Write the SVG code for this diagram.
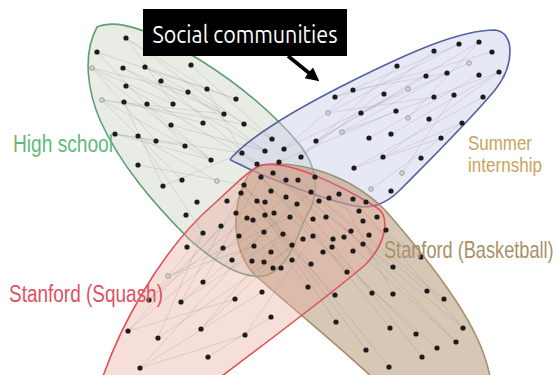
<svg xmlns="http://www.w3.org/2000/svg" xmlns:xlink="http://www.w3.org/1999/xlink" width="560" height="375" viewBox="0 0 560 375">
  <defs>
    <circle id="d" r="2.6" fill="#1c1c1c"/>
    <circle id="h" r="2.3" fill="#d6d6d6" stroke="#8a8a8a" stroke-width="0.8"/>
    <marker id="arrowhead" viewBox="0 0 10 10" refX="5" refY="5" markerWidth="3.8" markerHeight="3.8" orient="auto">
      <path d="M0,0 L10,5 L0,10 Z" fill="#000"/>
    </marker>
  </defs>
  <style>
    .hull { stroke-width: 1.6; }
    .lbl { font-family: "Liberation Sans Narrow", "Liberation Sans", Arial, sans-serif; }
    .edges line { stroke: #6e6e6e; stroke-width: 0.6; stroke-opacity: 0.3; }
  </style>

  <rect width="560" height="375" fill="#ffffff"/>

  <!-- community hulls -->
  <g id="high-school">
    <path class="hull" d="M97,27 C118,18 150,30 200,60 C240,85 275,115 300,145 C318,168 320,195 307,215 C295,240 290,265 268,275 C245,282 215,262 190,240 C155,205 120,165 100,120 C88,92 82,55 97,27 Z" fill="#dfe2da" fill-opacity="0.7" stroke="#5d9f74"/>
  </g>
  <g id="summer-internship">
    <path class="hull" d="M232,157 C250,138 290,112 350,82 C410,52 460,30 495,30 C515,32 515,65 495,90 C470,120 430,160 400,190 C385,205 370,210 350,205 C310,195 260,175 237,163 C230,160 229,160 232,157 Z" fill="#c9cde8" fill-opacity="0.45" stroke="#5260a0"/>
  </g>
  <g id="stanford-basketball">
    <path class="hull" d="M262,165 C300,160 350,175 385,210 C420,250 460,300 478,340 C485,355 490,375 492,385 L380,385 C350,355 300,315 255,275 C235,255 232,220 240,195 C245,178 252,167 262,165 Z" fill="#b0906c" fill-opacity="0.5" stroke="#a58d6e"/>
  </g>
  <g id="stanford-squash">
    <path class="hull" d="M100,385 C118,330 160,250 215,203 C235,185 248,170 262,165 C290,160 340,185 376,207 C392,217 385,245 365,265 C330,295 270,340 210,385 Z" fill="#e8a89c" fill-opacity="0.38" stroke="#e0525a"/>
  </g>

  <!-- ties between members -->
  <g class="edges" id="connectors">
    <line x1="92" y1="68" x2="211" y2="160"/>
    <line x1="92" y1="68" x2="188" y2="92"/>
    <line x1="92" y1="68" x2="173" y2="104"/>
    <line x1="92" y1="68" x2="156" y2="141"/>
    <line x1="97" y1="52" x2="236" y2="99"/>
    <line x1="97" y1="52" x2="185" y2="146"/>
    <line x1="102" y1="100" x2="224" y2="114"/>
    <line x1="102" y1="100" x2="211" y2="160"/>
    <line x1="102" y1="100" x2="244" y2="124"/>
    <line x1="102" y1="100" x2="182" y2="180"/>
    <line x1="115" y1="134" x2="185" y2="146"/>
    <line x1="115" y1="134" x2="242" y2="153"/>
    <line x1="115" y1="134" x2="211" y2="160"/>
    <line x1="126" y1="38" x2="207" y2="89"/>
    <line x1="126" y1="38" x2="244" y2="124"/>
    <line x1="126" y1="38" x2="173" y2="104"/>
    <line x1="123" y1="68" x2="265" y2="151"/>
    <line x1="123" y1="68" x2="224" y2="114"/>
    <line x1="145" y1="67" x2="272" y2="139"/>
    <line x1="145" y1="67" x2="236" y2="99"/>
    <line x1="126" y1="86" x2="257" y2="164"/>
    <line x1="138" y1="136" x2="217" y2="181"/>
    <line x1="138" y1="165" x2="244" y2="185"/>
    <line x1="161" y1="81" x2="224" y2="114"/>
    <line x1="161" y1="81" x2="257" y2="164"/>
    <line x1="188" y1="92" x2="265" y2="151"/>
    <line x1="207" y1="89" x2="242" y2="153"/>
    <line x1="191" y1="65" x2="272" y2="139"/>
    <line x1="147" y1="104" x2="211" y2="160"/>
    <line x1="124" y1="102" x2="203" y2="123"/>
    <line x1="124" y1="102" x2="163" y2="186"/>
    <line x1="163" y1="186" x2="242" y2="153"/>
    <line x1="171" y1="125" x2="265" y2="151"/>
    <line x1="138" y1="136" x2="203" y2="233"/>

    <line x1="316" y1="141" x2="479" y2="42"/>
    <line x1="316" y1="141" x2="426" y2="76"/>
    <line x1="328" y1="113" x2="459" y2="44"/>
    <line x1="342" y1="132" x2="499" y2="72"/>
    <line x1="342" y1="132" x2="447" y2="73"/>
    <line x1="335" y1="97" x2="492" y2="52"/>
    <line x1="335" y1="97" x2="459" y2="44"/>
    <line x1="301" y1="157" x2="434" y2="51"/>
    <line x1="301" y1="157" x2="397" y2="66"/>
    <line x1="284" y1="149" x2="408" y2="89"/>
    <line x1="284" y1="149" x2="353" y2="90"/>
    <line x1="354" y1="168" x2="483" y2="97"/>
    <line x1="354" y1="168" x2="441" y2="138"/>
    <line x1="369" y1="138" x2="479" y2="75"/>
    <line x1="361" y1="113" x2="469" y2="63"/>
    <line x1="383" y1="157" x2="462" y2="123"/>
    <line x1="383" y1="157" x2="499" y2="72"/>
    <line x1="371" y1="189" x2="462" y2="123"/>
    <line x1="402" y1="173" x2="454" y2="95"/>
    <line x1="279" y1="162" x2="396" y2="111"/>
    <line x1="353" y1="90" x2="447" y2="73"/>
    <line x1="391" y1="134" x2="499" y2="72"/>
    <line x1="328" y1="113" x2="434" y2="97"/>
    <line x1="408" y1="118" x2="479" y2="42"/>

    <line x1="128" y1="331" x2="286" y2="197"/>
    <line x1="128" y1="331" x2="221" y2="226"/>
    <line x1="140" y1="368" x2="264" y2="232"/>
    <line x1="140" y1="368" x2="245" y2="335"/>
    <line x1="149" y1="300" x2="247" y2="218"/>
    <line x1="149" y1="300" x2="203" y2="233"/>
    <line x1="158" y1="338" x2="303" y2="239"/>
    <line x1="168" y1="276" x2="290" y2="217"/>
    <line x1="168" y1="276" x2="254" y2="246"/>
    <line x1="181" y1="302" x2="311" y2="192"/>
    <line x1="181" y1="302" x2="283" y2="234"/>
    <line x1="128" y1="331" x2="235" y2="299"/>
    <line x1="140" y1="368" x2="262" y2="292"/>
    <line x1="201" y1="329" x2="283" y2="234"/>
    <line x1="201" y1="329" x2="292" y2="245"/>
    <line x1="208" y1="357" x2="271" y2="317"/>
    <line x1="149" y1="300" x2="236" y2="213"/>
    <line x1="203" y1="282" x2="261" y2="177"/>
    <line x1="245" y1="335" x2="313" y2="236"/>
    <line x1="158" y1="338" x2="203" y2="233"/>
    <line x1="181" y1="302" x2="241" y2="193"/>

    <line x1="273" y1="173" x2="456" y2="342"/>
    <line x1="273" y1="173" x2="393" y2="267"/>
    <line x1="261" y1="177" x2="416" y2="334"/>
    <line x1="261" y1="177" x2="347" y2="272"/>
    <line x1="286" y1="180" x2="463" y2="328"/>
    <line x1="244" y1="185" x2="389" y2="367"/>
    <line x1="244" y1="185" x2="311" y2="264"/>
    <line x1="298" y1="180" x2="444" y2="299"/>
    <line x1="257" y1="201" x2="366" y2="350"/>
    <line x1="265" y1="215" x2="336" y2="322"/>
    <line x1="286" y1="197" x2="390" y2="328"/>
    <line x1="311" y1="192" x2="427" y2="291"/>
    <line x1="329" y1="198" x2="421" y2="257"/>
    <line x1="319" y1="201" x2="456" y2="342"/>
    <line x1="353" y1="199" x2="463" y2="328"/>
    <line x1="290" y1="217" x2="437" y2="348"/>
    <line x1="253" y1="220" x2="308" y2="287"/>
    <line x1="339" y1="194" x2="393" y2="294"/>
    <line x1="313" y1="219" x2="422" y2="357"/>
    <line x1="241" y1="193" x2="335" y2="295"/>
  </g>

  <!-- members: high school -->
  <g id="members-high-school">
    <use href="#d" x="126" y="38"/><use href="#d" x="97" y="52"/><use href="#d" x="123" y="68"/>
    <use href="#d" x="145" y="67"/><use href="#d" x="191" y="65"/><use href="#d" x="126" y="86"/>
    <use href="#d" x="161" y="81"/><use href="#d" x="188" y="92"/><use href="#d" x="207" y="89"/>
    <use href="#d" x="236" y="99"/><use href="#d" x="124" y="102"/><use href="#d" x="147" y="104"/>
    <use href="#d" x="173" y="104"/><use href="#d" x="224" y="114"/><use href="#d" x="171" y="125"/>
    <use href="#d" x="203" y="123"/><use href="#d" x="244" y="124"/><use href="#d" x="115" y="134"/>
    <use href="#d" x="138" y="136"/><use href="#d" x="156" y="141"/><use href="#d" x="185" y="146"/>
    <use href="#d" x="211" y="160"/><use href="#d" x="138" y="165"/><use href="#d" x="182" y="180"/>
    <use href="#d" x="163" y="186"/><use href="#d" x="242" y="153"/><use href="#d" x="265" y="151"/>
    <use href="#d" x="257" y="164"/><use href="#d" x="272" y="139"/><use href="#d" x="197" y="202"/>
    <use href="#d" x="186" y="215"/><use href="#d" x="227" y="201"/>
    <use href="#h" x="92" y="68"/><use href="#h" x="102" y="100"/><use href="#h" x="217" y="181"/>
  </g>

  <!-- members: summer internship -->
  <g id="members-summer-internship">
    <use href="#d" x="459" y="44"/><use href="#d" x="479" y="42"/><use href="#d" x="492" y="52"/>
    <use href="#d" x="434" y="51"/><use href="#d" x="397" y="66"/><use href="#d" x="426" y="76"/>
    <use href="#d" x="447" y="73"/><use href="#d" x="479" y="75"/><use href="#d" x="499" y="72"/>
    <use href="#d" x="353" y="90"/><use href="#d" x="384" y="94"/><use href="#d" x="434" y="97"/>
    <use href="#d" x="454" y="95"/><use href="#d" x="483" y="97"/><use href="#d" x="335" y="97"/>
    <use href="#d" x="361" y="113"/><use href="#d" x="396" y="111"/><use href="#d" x="429" y="119"/>
    <use href="#d" x="462" y="123"/><use href="#d" x="316" y="141"/><use href="#d" x="369" y="138"/>
    <use href="#d" x="391" y="134"/><use href="#d" x="441" y="138"/><use href="#d" x="383" y="157"/>
    <use href="#d" x="421" y="158"/><use href="#d" x="354" y="168"/><use href="#d" x="301" y="157"/>
    <use href="#d" x="284" y="149"/><use href="#d" x="279" y="162"/><use href="#d" x="391" y="191"/>
    <use href="#h" x="469" y="63"/><use href="#h" x="408" y="89"/><use href="#h" x="328" y="113"/>
    <use href="#h" x="408" y="118"/><use href="#h" x="342" y="132"/><use href="#h" x="402" y="173"/>
    <use href="#h" x="371" y="189"/>
  </g>

  <!-- members: stanford squash -->
  <g id="members-stanford-squash">
    <use href="#d" x="203" y="233"/><use href="#d" x="221" y="226"/><use href="#d" x="187" y="247"/>
    <use href="#d" x="223" y="248"/><use href="#d" x="232" y="260"/><use href="#d" x="203" y="282"/>
    <use href="#d" x="235" y="299"/><use href="#d" x="262" y="292"/><use href="#d" x="271" y="317"/>
    <use href="#d" x="201" y="329"/><use href="#d" x="245" y="335"/><use href="#d" x="208" y="357"/>
    <use href="#d" x="181" y="302"/><use href="#d" x="149" y="300"/><use href="#d" x="128" y="331"/>
    <use href="#d" x="158" y="338"/><use href="#d" x="140" y="368"/><use href="#d" x="236" y="213"/>
    <use href="#d" x="239" y="236"/>
    <use href="#h" x="168" y="276"/>
  </g>

  <!-- members: stanford basketball -->
  <g id="members-stanford-basketball">
    <use href="#d" x="261" y="177"/><use href="#d" x="273" y="173"/><use href="#d" x="286" y="180"/>
    <use href="#d" x="298" y="180"/><use href="#d" x="315" y="177"/><use href="#d" x="244" y="185"/>
    <use href="#d" x="241" y="193"/><use href="#d" x="271" y="191"/><use href="#d" x="286" y="197"/>
    <use href="#d" x="311" y="192"/><use href="#d" x="319" y="201"/><use href="#d" x="329" y="198"/>
    <use href="#d" x="339" y="194"/><use href="#d" x="353" y="199"/><use href="#d" x="366" y="202"/>
    <use href="#d" x="359" y="211"/><use href="#d" x="257" y="201"/><use href="#d" x="265" y="202"/>
    <use href="#d" x="297" y="204"/><use href="#d" x="247" y="218"/><use href="#d" x="253" y="220"/>
    <use href="#d" x="265" y="215"/><use href="#d" x="274" y="213"/><use href="#d" x="290" y="217"/>
    <use href="#d" x="313" y="219"/><use href="#d" x="326" y="217"/><use href="#d" x="363" y="221"/>
    <use href="#d" x="377" y="217"/><use href="#d" x="386" y="230"/><use href="#d" x="264" y="232"/>
    <use href="#d" x="283" y="234"/><use href="#d" x="303" y="239"/><use href="#d" x="313" y="236"/>
    <use href="#d" x="333" y="239"/><use href="#d" x="344" y="237"/><use href="#d" x="351" y="231"/>
    <use href="#d" x="369" y="235"/><use href="#d" x="254" y="246"/><use href="#d" x="271" y="252"/>
    <use href="#d" x="292" y="245"/><use href="#d" x="323" y="252"/><use href="#d" x="332" y="247"/>
    <use href="#d" x="353" y="251"/><use href="#d" x="363" y="244"/><use href="#d" x="252" y="261"/>
    <use href="#d" x="264" y="262"/><use href="#d" x="273" y="268"/><use href="#d" x="281" y="268"/>
    <use href="#d" x="292" y="260"/><use href="#d" x="311" y="264"/><use href="#d" x="347" y="272"/>
    <use href="#d" x="393" y="267"/><use href="#d" x="421" y="257"/><use href="#d" x="308" y="287"/>
    <use href="#d" x="335" y="295"/><use href="#d" x="372" y="293"/><use href="#d" x="393" y="294"/>
    <use href="#d" x="427" y="291"/><use href="#d" x="444" y="299"/><use href="#d" x="336" y="322"/>
    <use href="#d" x="390" y="328"/><use href="#d" x="416" y="334"/><use href="#d" x="463" y="328"/>
    <use href="#d" x="456" y="342"/><use href="#d" x="437" y="348"/><use href="#d" x="366" y="350"/>
    <use href="#d" x="422" y="357"/><use href="#d" x="389" y="367"/>
  </g>

  <!-- community labels -->
  <g id="labels" class="lbl">
    <text x="13" y="152" font-size="23" fill="#5fb97c" textLength="100" lengthAdjust="spacingAndGlyphs">High school</text>
    <text x="468" y="150" font-size="21" fill="#c9a35a" textLength="64" lengthAdjust="spacingAndGlyphs">Summer</text>
    <text x="468" y="172" font-size="21" fill="#c9a35a" textLength="74" lengthAdjust="spacingAndGlyphs">internship</text>
    <text x="9" y="302" font-size="23" fill="#e0525e" textLength="154" lengthAdjust="spacingAndGlyphs">Stanford (Squash)</text>
    <text transform="translate(384,258) scale(0.79,1)" x="0" y="0" font-size="23" fill="#a98f6a">Stanford (Basketball)</text>
  </g>

  <!-- callout -->
  <g id="callout">
    <rect x="143" y="9" width="204" height="47" fill="#000"/>
    <text x="245" y="43" font-family="Ubuntu, 'DejaVu Sans Condensed', 'Open Sans', sans-serif" font-size="24" fill="#fff" text-anchor="middle" textLength="185" lengthAdjust="spacingAndGlyphs">Social communities</text>
    <line x1="288" y1="56" x2="314" y2="77" stroke="#000" stroke-width="3.6" marker-end="url(#arrowhead)"/>
  </g>
</svg>
